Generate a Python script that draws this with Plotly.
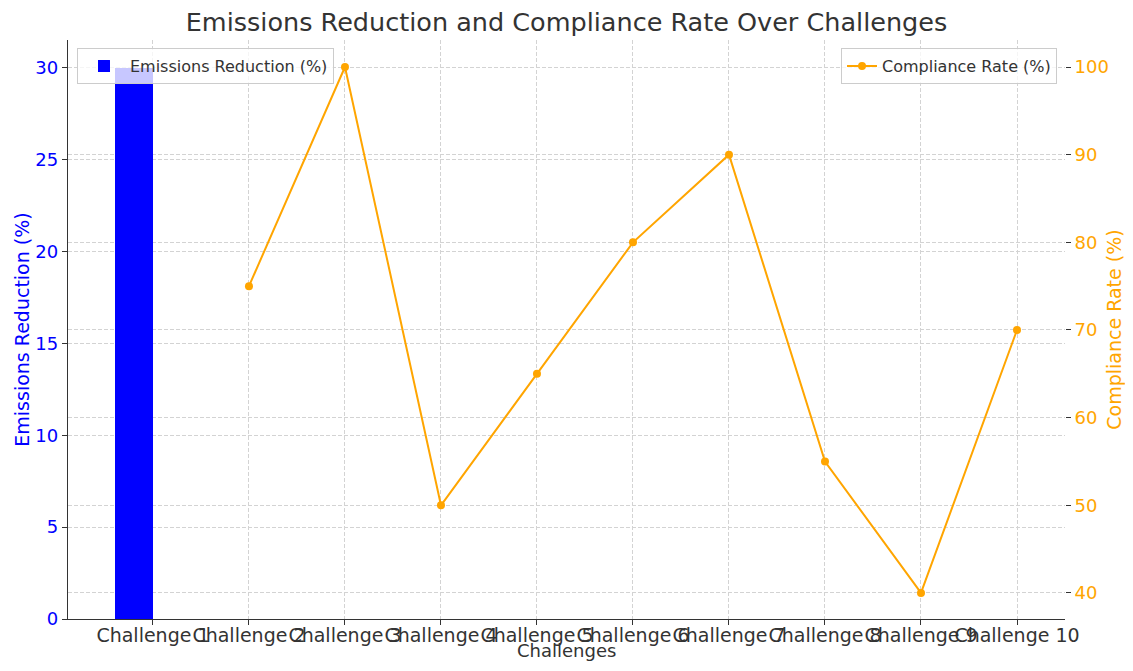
import plotly.graph_objects as go

challenges = ["Challenge 1", "Challenge 2", "Challenge 3", "Challenge 4", "Challenge 5",
              "Challenge 6", "Challenge 7", "Challenge 8", "Challenge 9", "Challenge 10"]
emissions_reduction = [30, None, None, None, None, None, None, None, None, None]
compliance_rate = [None, 75, 100, 50, 65, 80, 90, 55, 40, 70]
left_ticks = [0, 5, 10, 15, 20, 25, 30]
right_ticks = [40, 50, 60, 70, 80, 90, 100]
x_title = "Challenges"

positions = list(range(len(challenges)))
FONT = "DejaVu Sans"

fig = go.Figure()
fig.add_trace(go.Bar(
    x=positions, y=emissions_reduction, name="Emissions Reduction (%)",
    marker=dict(color="#0000FF", line=dict(width=0)),
    width=0.4, offset=-0.4, legend="legend", yaxis="y",
))
fig.add_trace(go.Scatter(
    x=positions, y=compliance_rate, name="Compliance Rate (%)",
    mode="lines+markers", line=dict(color="#FFA500", width=2),
    marker=dict(color="#FFA500", size=8), connectgaps=False,
    legend="legend2", yaxis="y2",
))

grid = dict(showgrid=True, gridcolor="#d3d3d3", griddash="4px,2px", gridwidth=0.8)

# page body has an 8px margin, so the figure is 16px smaller and margins are 8px less
fig.update_layout(
    width=1117, height=655,
    margin=dict(l=60, r=60, t=32, b=44),
    plot_bgcolor="white", paper_bgcolor="white",
    font=dict(family=FONT, color="#333333", size=15),
    title=dict(text="Emissions Reduction and Compliance Rate Over Challenges",
               x=0.5, xanchor="center", y=1 - 14 / 655, yref="container", yanchor="middle",
               font=dict(size=25.5, color="#333333")),
    bargap=0,
    xaxis=dict(
        range=[-0.885, 9.5], tickmode="array", tickvals=positions, ticktext=challenges,
        tickangle=0, automargin=False, ticklabelstandoff=-6,
        ticks="outside", ticklen=5, tickcolor="#333333",
        tickfont=dict(size=19, color="#333333"),
        showline=True, linecolor="#333333", linewidth=1.3, zeroline=False, **grid,
    ),
    yaxis=dict(
        range=[0, 31.52], tickmode="array", tickvals=left_ticks, automargin=False,
        ticks="outside", ticklen=5, tickcolor="#333333",
        tickfont=dict(size=18, color="#0000FF"),
        title=dict(text="Emissions Reduction (%)", font=dict(size=19, color="#0000FF"), standoff=0),
        showline=True, linecolor="#333333", linewidth=1.3, zeroline=False, **grid,
    ),
    yaxis2=dict(
        range=[37.03, 103.08], tickmode="array", tickvals=right_ticks,
        overlaying="y", side="right", automargin=False,
        ticks="outside", ticklen=5, tickcolor="#333333",
        tickfont=dict(size=18, color="#FFA500"),
        title=dict(text="Compliance Rate (%)", font=dict(size=19, color="#FFA500"), standoff=14),
        showline=False, zeroline=False, **grid,
    ),
    legend=dict(x=0.009, y=0.986, xanchor="left", yanchor="top", itemwidth=42,
                bgcolor="rgba(255,255,255,0.78)", bordercolor="#cccccc", borderwidth=1,
                font=dict(size=16, color="#333333")),
    legend2=dict(x=0.992, y=0.986, xanchor="right", yanchor="top",
                 bgcolor="rgba(255,255,255,0.78)", bordercolor="#cccccc", borderwidth=1,
                 font=dict(size=16, color="#333333")),
    showlegend=True,
    annotations=[dict(text=x_title, xref="paper", yref="paper", x=0.5, y=-44 / 579,
                      xanchor="center", yanchor="bottom", showarrow=False,
                      font=dict(size=18, color="#333333"))],
)

fig.write_html("out.html")
